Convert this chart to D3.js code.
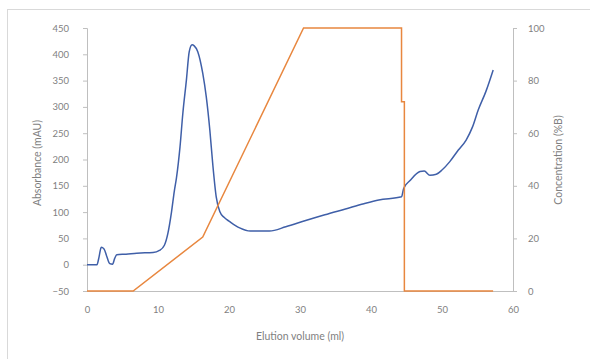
<!DOCTYPE html>
<html><head><meta charset="utf-8">
<script src="https://cdn.jsdelivr.net/npm/d3@7"></script>
<style>body{margin:0;background:#fff}svg{display:block}text{font-family:Lato,"Open Sans",sans-serif;fill:#7f7f7f}</style>
</head><body><svg id="c" width="590" height="359"></svg>
<script>
const absVolume = [0,1.4,1.7,2.0,2.4,2.8,3.2,3.6,3.9,4.2,5.5,7,9.3,10.2,10.9,11.4,11.9,12.3,12.6,13.1,13.5,14.0,14.4,14.8,15.1,15.6,16.3,16.8,17.3,17.7,18.2,18.7,19.3,20.1,21.5,23,25.7,28,30.8,33.5,36.4,39,41.1,44.3,44.6,45.5,46.9,47.5,48.3,49.2,50,51.1,52.3,53.4,54.3,55.1,56.2,57.2];
const absValues = [0,0,15,33,30,15,2,1,12,19,20,22,23,27,37,60,100,140,165,224,288,351,405,418,416,405,364,319,256,193,129,101,90,82,70,64,64,72,84,95,106,116,123,129,145,160,177,178,170,172,180,196,218,237,262,294,330,370];
const concVolume = [0,6.5,16.3,30.5,44.3,44.3,44.7,44.7,57.2];
const concValues = [0,0,20.5,100,100,72,72,0,0];
const xTicks = [0,10,20,30,40,50,60];
const yLeftTicks = [-50,0,50,100,150,200,250,300,350,400,450];
const yRightTicks = [0,20,40,60,80,100];

const svg = d3.select("#c");
svg.append("rect").attr("x",7.5).attr("y",9.5).attr("width",600).attr("height",400)
  .attr("fill","none").attr("stroke","#d9d9d9");

const x = d3.scaleLinear().domain([0,60]).range([87,513]);
const yL = d3.scaleLinear().domain([-50,450]).range([291,28]);
const yR = d3.scaleLinear().domain([0,100]).range([291,28]);

const axisColor = "#bfbfbf";
// left axis
const gL = svg.append("g").attr("transform","translate(87,0)")
  .call(d3.axisLeft(yL).tickValues(yLeftTicks).tickSize(4).tickPadding(14));
// right axis
const gR = svg.append("g").attr("transform","translate(513,0)")
  .call(d3.axisRight(yR).tickValues(yRightTicks).tickSize(4).tickPadding(11));
// bottom axis
const gB = svg.append("g").attr("transform","translate(0,291)")
  .call(d3.axisBottom(x).tickValues(xTicks).tickSize(0).tickPadding(15));
[gL,gR,gB].forEach(g=>{
  g.selectAll("path,line").attr("stroke",axisColor);
  g.selectAll("text").attr("font-size","9.5px").attr("fill","#7f7f7f").style("font-family","Lato,'Open Sans',sans-serif");
});

const lineAbs = d3.line().x((d,i)=>x(absVolume[i])).y(d=>yL(d)).curve(d3.curveMonotoneX);
svg.append("path").datum(absValues).attr("d",lineAbs).attr("fill","none")
  .attr("stroke","#3f5fa8").attr("stroke-width",1.5);

const lineConc = d3.line().x((d,i)=>x(concVolume[i])).y(d=>yR(d));
svg.append("path").datum(concValues).attr("d",lineConc).attr("fill","none")
  .attr("stroke","#e8873f").attr("stroke-width",1.5);

svg.append("text").attr("x",300).attr("y",340).attr("text-anchor","middle")
  .attr("font-size","10.5px").text("Elution volume (ml)");
svg.append("text").attr("transform","translate(41,163) rotate(-90)").attr("text-anchor","middle")
  .attr("font-size","10.5px").text("Absorbance (mAU)");
svg.append("text").attr("transform","translate(562,160) rotate(-90)").attr("text-anchor","middle")
  .attr("font-size","10.5px").text("Concentration (%B)");
</script></body></html>
